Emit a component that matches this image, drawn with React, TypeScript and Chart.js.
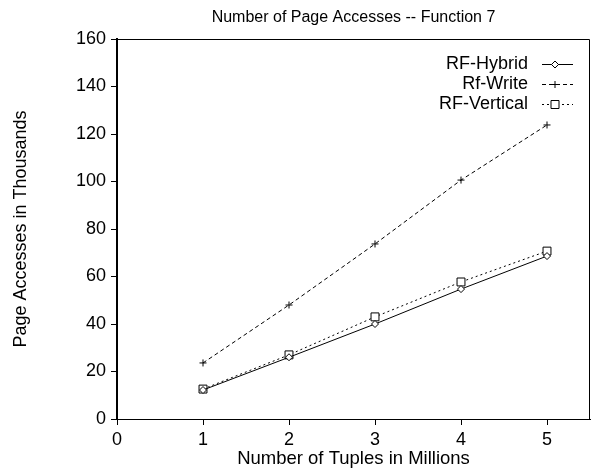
import React, { useEffect, useRef } from "react";
import { Chart, registerables } from "chart.js";

Chart.register(...registerables);

const xValues = [1, 2, 3, 4, 5];
const hybridValues = [12.2, 26, 40, 54.7, 68.6];
const writeValues = [23.6, 48, 73.7, 100.6, 123.8];
const verticalValues = [12.6, 27, 43, 57.7, 70.7];
const xTickValues = [0, 1, 2, 3, 4, 5];
const yTickValues = [0, 20, 40, 60, 80, 100, 120, 140, 160];
const seriesLabels = ["RF-Hybrid", "Rf-Write", "RF-Vertical"];
const chartTitle = "Number of Page Accesses -- Function 7";

const FONT = "'Liberation Sans', Arial, Helvetica, sans-serif";

function drawMarker(ctx: CanvasRenderingContext2D, kind: string, x: number, y: number) {
  ctx.save();
  ctx.setLineDash([]);
  ctx.lineWidth = 1;
  ctx.strokeStyle = "#000";
  ctx.fillStyle = "#fff";
  ctx.beginPath();
  if (kind === "diamond") {
    const r = 3.5;
    ctx.moveTo(x, y - r);
    ctx.lineTo(x + r, y);
    ctx.lineTo(x, y + r);
    ctx.lineTo(x - r, y);
    ctx.closePath();
    ctx.fill();
    ctx.stroke();
  } else if (kind === "cross") {
    const r = 3.5;
    ctx.moveTo(x - r, y);
    ctx.lineTo(x + r, y);
    ctx.moveTo(x, y - r);
    ctx.lineTo(x, y + r);
    ctx.stroke();
  } else {
    const s = 4;
    ctx.rect(x - s, y - s, 2 * s, 2 * s);
    ctx.fill();
    ctx.stroke();
  }
  ctx.restore();
}

const framePlugin = {
  id: "frameAndLegend",
  afterDraw(chart: any) {
    const { ctx, chartArea } = chart;
    const { left, right, top, bottom } = chartArea;
    ctx.save();
    ctx.strokeStyle = "#000";
    ctx.lineWidth = 1;
    ctx.beginPath();
    ctx.moveTo(left, Math.round(top) + 0.5);
    ctx.lineTo(Math.round(right) - 0.5, Math.round(top) + 0.5);
    ctx.lineTo(Math.round(right) - 0.5, bottom);
    ctx.stroke();

    // title centred over the plot area
    ctx.font = `16px ${FONT}`;
    ctx.fillStyle = "#000";
    ctx.textAlign = "center";
    ctx.textBaseline = "middle";
    ctx.fillText(chartTitle, (left + right) / 2, 18);

    // legend
    const kinds = ["diamond", "cross", "square"];
    const dashes = [[], [4, 3], [2, 3]];
    const rowY = [64, 84, 104];
    const textRight = 528;
    ctx.font = `18px ${FONT}`;
    ctx.textAlign = "right";
    for (let i = 0; i < 3; i++) {
      const y = rowY[i];
      ctx.fillText(seriesLabels[i], textRight, y);
      ctx.save();
      ctx.setLineDash(dashes[i]);
      ctx.lineWidth = 1;
      ctx.beginPath();
      ctx.moveTo(542, y + 0.5);
      ctx.lineTo(573, y + 0.5);
      ctx.stroke();
      ctx.restore();
      drawMarker(ctx, kinds[i], 555, y + 0.5);
    }
    ctx.restore();
  },
};

export default function App() {
  const canvasRef = useRef<HTMLCanvasElement | null>(null);

  useEffect(() => {
    if (!canvasRef.current) return;
    Chart.defaults.font.family = FONT;
    const toPts = (vals: number[]) => xValues.map((x, i) => ({ x, y: vals[i] }));
    const chart = new Chart(canvasRef.current, {
      type: "line",
      data: {
        datasets: [
          {
            label: seriesLabels[0],
            data: toPts(hybridValues),
            borderColor: "#000",
            backgroundColor: "#fff",
            borderWidth: 1,
            pointStyle: "rectRot",
            pointRadius: 3.5,
            pointBorderWidth: 1,
            pointBorderColor: "#000",
            pointBackgroundColor: "#fff",
            tension: 0,
          },
          {
            label: seriesLabels[1],
            data: toPts(writeValues),
            borderColor: "#000",
            backgroundColor: "#000",
            borderWidth: 1,
            borderDash: [4, 3],
            pointStyle: "cross",
            pointRadius: 3.5,
            pointBorderWidth: 1,
            pointBorderColor: "#000",
            tension: 0,
          },
          {
            label: seriesLabels[2],
            data: toPts(verticalValues),
            borderColor: "#000",
            backgroundColor: "#fff",
            borderWidth: 1,
            borderDash: [2, 3],
            pointStyle: "rect",
            pointRadius: 5.6,
            pointBorderWidth: 1,
            pointBorderColor: "#000",
            pointBackgroundColor: "#fff",
            tension: 0,
          },
        ],
      },
      options: {
        responsive: false,
        animation: false,
        layout: { autoPadding: false, padding: { left: 0, right: 3, top: 39, bottom: 0 } },
        plugins: {
          legend: { display: false },
          tooltip: { enabled: false },
          title: { display: false },
        },
        scales: {
          x: {
            type: "linear",
            min: 0,
            max: 5.5,
            afterBuildTicks: (s: any) => {
              s.ticks = xTickValues.map((v) => ({ value: v }));
            },
            afterFit: (s: any) => {
              s.height = 55;
              s.paddingRight = 0;
              s.paddingLeft = 0;
            },
            grid: {
              drawOnChartArea: false,
              drawTicks: true,
              tickLength: 6,
              color: "#000",
            },
            border: { display: true, color: "#000", width: 1 },
            ticks: {
              color: "#000",
              font: { size: 18, family: FONT },
              padding: 4,
              maxRotation: 0,
              autoSkip: false,
            },
            title: {
              display: true,
              text: "Number of Tuples in Millions",
              color: "#000",
              font: { size: 18.5, family: FONT },
              padding: { top: 0, bottom: 4 },
            },
          },
          y: {
            type: "linear",
            min: 0,
            max: 160,
            afterBuildTicks: (s: any) => {
              s.ticks = yTickValues.map((v) => ({ value: v }));
            },
            afterFit: (s: any) => {
              s.width = 117;
              s.paddingTop = 0;
              s.paddingBottom = 0;
            },
            grid: {
              drawOnChartArea: false,
              drawTicks: true,
              tickLength: 6,
              color: "#000",
            },
            border: { display: true, color: "#000", width: 2 },
            ticks: {
              color: "#000",
              font: { size: 18, family: FONT },
              padding: 5,
              autoSkip: false,
            },
            title: {
              display: true,
              text: "Page Accesses in Thousands",
              color: "#000",
              font: { size: 18, family: FONT },
              padding: { top: 10, bottom: 0 },
            },
          },
        },
      },
      plugins: [framePlugin],
    } as any);
    return () => chart.destroy();
  }, []);

  return (
    <div style={{ position: "fixed", left: 0, top: 0, width: 593, height: 474, background: "#fff" }}>
      <canvas ref={canvasRef} width={593} height={474} style={{ display: "block" }} />
    </div>
  );
}
